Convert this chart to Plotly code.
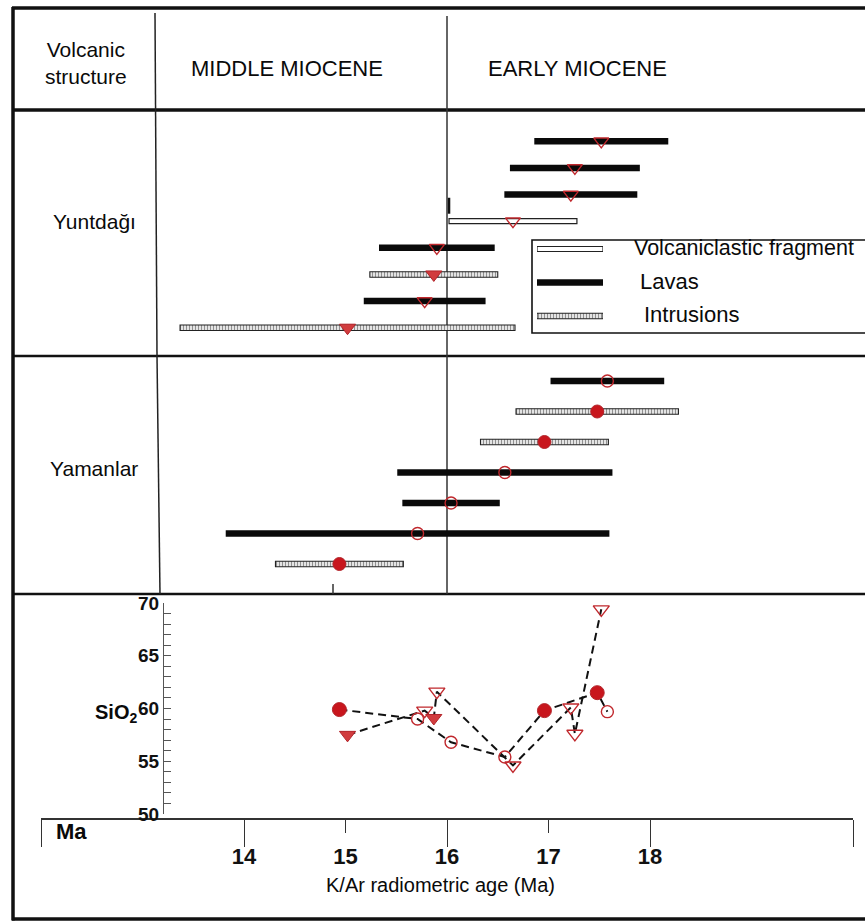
import plotly.graph_objects as go

W, H = 865, 922

# ---------------- data ----------------
# Yuntdağı samples, listed top to bottom
yunt_types = ["Lavas", "Lavas", "Lavas", "Volcaniclastic fragment",
              "Lavas", "Intrusions", "Lavas", "Intrusions"]
yunt_age = [17.52, 17.26, 17.22, 16.65, 15.90, 15.87, 15.78, 15.02]
yunt_err = [0.66, 0.64, 0.655, 0.63, 0.57, 0.63, 0.60, 1.65]
yunt_sio2 = [69.4, 57.6, 60.1, 54.6, 61.6, 59.1, 59.8, 57.5]

# Yamanlar samples, listed top to bottom
yama_types = ["Lavas", "Intrusions", "Intrusions", "Lavas",
              "Lavas", "Lavas", "Intrusions"]
yama_age = [17.58, 17.48, 16.96, 16.57, 16.04, 15.71, 14.94]
yama_err = [0.56, 0.80, 0.63, 1.06, 0.48, 1.89, 0.63]
yama_sio2 = [59.7, 61.5, 59.8, 55.4, 56.8, 59.0, 59.9]

age_ticks_major = [12, 14, 16, 18, 20]
age_labels_major = ["", "14", "16", "18", ""]
age_ticks_minor = [15, 17]
age_labels_minor = ["15", "17"]
sio2_ticks = [50, 55, 60, 65, 70]
legend_labels = ["Volcaniclastic fragment", "Lavas", "Intrusions"]
structures = ["Yuntdağı", "Yamanlar"]
epochs = ["MIDDLE MIOCENE", "EARLY MIOCENE"]
boundary_age = 16.0

# ---------------- helpers ----------------
FONT = "Liberation Sans, Arial, Helvetica, sans-serif"
RED_FILL_TRI = "#d13c3e"
RED_FILL_CIR = "#c8161d"
RED_LINE = "#c0282d"


def px(x):
    return x / W


def py(y):
    return 1 - y / H


STYLE = {
    "Lavas": dict(th=6.5, color="#0a0a0a", line_color="#0a0a0a", line_w=0, pattern=None),
    "Volcaniclastic fragment": dict(th=5, color="white", line_color="#222", line_w=1.2, pattern=None),
    "Intrusions": dict(th=5.5, color="white", line_color="#222", line_w=1.1,
                       pattern=dict(shape="|", fgcolor="#222", bgcolor="white",
                                    size=3, solidity=0.5)),
}

fig = go.Figure()


def add_bars(types, starts, lengths, rows, xaxis, yaxis, px_per_unit):
    for t in legend_labels:
        idx = [i for i in range(len(types)) if types[i] == t]
        if not idx:
            continue
        st = STYLE[t]
        marker = dict(color=st["color"], line=dict(color=st["line_color"], width=st["line_w"]))
        if st["pattern"]:
            marker["pattern"] = st["pattern"]
        fig.add_trace(go.Bar(
            orientation="h",
            y=[rows[i] for i in idx],
            base=[starts[i] for i in idx],
            x=[lengths[i] for i in idx],
            width=st["th"] / px_per_unit,
            marker=marker,
            xaxis=xaxis, yaxis=yaxis,
            showlegend=False, hoverinfo="skip",
        ))


def add_points(ages, vals, types, symbol, filled_color, size_open, size_filled, yaxis):
    filled = [i for i in range(len(ages)) if types[i] == "Intrusions"]
    opened = [i for i in range(len(ages)) if types[i] != "Intrusions"]
    fig.add_trace(go.Scatter(
        x=[ages[i] for i in opened], y=[vals[i] for i in opened], mode="markers",
        marker=dict(symbol=symbol + "-open", size=size_open, color=RED_LINE,
                    line=dict(width=1.4, color=RED_LINE)),
        xaxis="x", yaxis=yaxis, showlegend=False, hoverinfo="skip"))
    fig.add_trace(go.Scatter(
        x=[ages[i] for i in filled], y=[vals[i] for i in filled], mode="markers",
        marker=dict(symbol=symbol, size=size_filled, color=filled_color,
                    line=dict(width=1, color="#b3242a")),
        xaxis="x", yaxis=yaxis, showlegend=False, hoverinfo="skip"))


# ---------------- age-range bars ----------------
yunt_rows = list(range(len(yunt_age), 0, -1))
yama_rows = list(range(len(yama_age), 0, -1))
YUNT_PPU = (341 - 128) / 8.0
YAMA_PPU = (579.25 - 365.75) / 7.0

add_bars(yunt_types, [a - e for a, e in zip(yunt_age, yunt_err)],
         [2 * e for e in yunt_err], yunt_rows, "x", "y", YUNT_PPU)
add_bars(yama_types, [a - e for a, e in zip(yama_age, yama_err)],
         [2 * e for e in yama_err], yama_rows, "x", "y2", YAMA_PPU)

add_points(yunt_age, yunt_rows, yunt_types, "triangle-down", RED_FILL_TRI, 13, 14, "y")
add_points(yama_age, yama_rows, yama_types, "circle", RED_FILL_CIR, 12, 13, "y2")

# ---------------- SiO2 vs age ----------------
for ages, vals in ((yunt_age, yunt_sio2), (yama_age, yama_sio2)):
    order = sorted(range(len(ages)), key=lambda i: ages[i])
    fig.add_trace(go.Scatter(
        x=[ages[i] for i in order], y=[vals[i] for i in order], mode="lines",
        line=dict(color="#111", width=2, dash="8px,5px"),
        xaxis="x", yaxis="y3", showlegend=False, hoverinfo="skip"))
add_points(yunt_age, yunt_sio2, yunt_types, "triangle-down", RED_FILL_TRI, 14, 14, "y3")
add_points(yama_age, yama_sio2, yama_types, "circle", RED_FILL_CIR, 12, 14, "y3")

# dummy trace so the secondary age axis (15, 17 ticks) is rendered
fig.add_trace(go.Scatter(x=age_ticks_minor, y=[None] * len(age_ticks_minor),
                         xaxis="x2", yaxis="y3", showlegend=False, hoverinfo="skip"))

# ---------------- legend samples ----------------
leg_rows = list(range(len(legend_labels), 0, -1))
add_bars(legend_labels, [0] * 3, [1] * 3, leg_rows, "x3", "y4", 33.5)

# ---------------- layout ----------------
axis_y_px = 819
fig.update_layout(
    width=W, height=H, margin=dict(l=0, r=0, t=0, b=0, pad=0, autoexpand=False),
    paper_bgcolor="white", plot_bgcolor="rgba(0,0,0,0)",
    barmode="overlay", showlegend=False,
    font=dict(family=FONT, color="#111"),
    xaxis=dict(domain=[px(41), px(853)], range=[12, 20], anchor="free",
               position=py(axis_y_px), tickmode="array", tickvals=age_ticks_major,
               ticktext=age_labels_major, ticks="outside", ticklen=27, tickwidth=1.3,
               tickcolor="#333", showline=True, linecolor="#333", linewidth=1.5,
               showgrid=False, zeroline=False, automargin=False, ticklabelstandoff=-9,
               tickfont=dict(family=FONT, size=22, color="#111", weight="bold")),
    xaxis2=dict(domain=[px(41), px(853)], range=[12, 20], overlaying="x", anchor="free",
                position=py(axis_y_px), tickmode="array", tickvals=age_ticks_minor,
                ticktext=age_labels_minor, ticks="outside", ticklen=13, tickwidth=1.3,
                tickcolor="#333", ticklabelstandoff=5, showline=False, showgrid=False,
                zeroline=False, automargin=False,
                tickfont=dict(family=FONT, size=22, color="#111", weight="bold")),
    xaxis3=dict(domain=[px(537), px(603)], range=[0, 1], anchor="y4", visible=False,
                automargin=False),
    yaxis=dict(domain=[py(341), py(128)], range=[0.5, 8.5], visible=False, anchor="x",
               automargin=False),
    yaxis2=dict(domain=[py(579.25), py(365.75)], range=[0.5, 7.5], visible=False, anchor="x",
                automargin=False),
    yaxis3=dict(domain=[py(814), py(603)], range=[50, 70], anchor="free", position=px(163),
                tickmode="array", tickvals=sio2_ticks, ticks="inside", ticklen=7,
                tickwidth=1, tickcolor="#555", showline=True, linecolor="#555",
                linewidth=1.2, showgrid=False, zeroline=False, automargin=False,
                minor=dict(dtick=1, ticks="inside", ticklen=7, tickcolor="#555", tickwidth=1),
                tickfont=dict(family=FONT, size=19, color="#111", weight="bold")),
    yaxis4=dict(domain=[py(332.75), py(232.25)], range=[0.5, 3.5], anchor="x3", visible=False,
                automargin=False),
)

# ---------------- table frame ----------------
shapes = []


def hline(y, x0, x1, w):
    shapes.append(dict(type="line", xref="paper", yref="paper", x0=px(x0), x1=px(x1),
                       y0=py(y), y1=py(y), line=dict(color="#111", width=w), layer="below"))


def vline(x0, y0, x1, y1, w, color="#222"):
    shapes.append(dict(type="line", xref="paper", yref="paper", x0=px(x0), x1=px(x1),
                       y0=py(y0), y1=py(y1), line=dict(color=color, width=w), layer="below"))


hline(8, 12, 880, 3.5)
hline(919, 12, 880, 3.5)
hline(110, 13, 880, 3.5)
hline(356, 13, 880, 2.6)
hline(594, 13, 880, 2.6)
vline(13, 7, 13, 920.5, 3.5, "#111")
vline(155, 13, 157, 356, 1.5)
vline(157, 356, 160, 594, 1.5)
vline(333, 584, 333, 594, 1.5, "#333")
# small stroke above the start of the volcaniclastic-fragment bar
vc = yunt_types.index("Volcaniclastic fragment")
shapes.append(dict(type="line", xref="x", yref="y",
                   x0=yunt_age[vc] - yunt_err[vc], x1=yunt_age[vc] - yunt_err[vc],
                   y0=yunt_rows[vc] + 0.28, y1=yunt_rows[vc] + 0.88,
                   line=dict(color="#111", width=2.5)))
# Middle / Early Miocene boundary
shapes.append(dict(type="line", xref="x", yref="paper", x0=boundary_age, x1=boundary_age,
                   y0=py(594), y1=py(16), line=dict(color="#333", width=1.5), layer="below"))
# legend frame
shapes.append(dict(type="rect", xref="paper", yref="paper", x0=px(532), x1=px(880),
                   y0=py(333), y1=py(240), line=dict(color="#111", width=1.6),
                   fillcolor="white", layer="below"))
fig.update_layout(shapes=shapes)

# ---------------- texts ----------------
ann = []


def text(s, x, y, size, xanchor="center", bold=False):
    ann.append(dict(text=s, x=px(x), y=py(y), xref="paper", yref="paper", showarrow=False,
                    xanchor=xanchor, yanchor="middle",
                    font=dict(family=FONT, size=size, color="#0a0a0a",
                              weight="bold" if bold else "normal")))


text("Volcanic<br>structure", 86, 63, 21)
text(epochs[0], 287, 68, 22)
text(epochs[1], 577, 68, 22)
text(structures[0], 94, 222, 21)
text(structures[1], 94, 468, 21)
legend_text_x = [632, 638, 642]
legend_text_y = [248, 281, 315]
for lab, lx, ly in zip(legend_labels, legend_text_x, legend_text_y):
    text(lab, lx, ly, 21.5 if len(lab) > 15 else 22, xanchor="left")
text("Ma", 54, 831, 22, xanchor="left", bold=True)
text("SiO<sub>2</sub>", 139, 713, 20, xanchor="right", bold=True)
text("K/Ar radiometric age (Ma)", 440, 885, 20)
fig.update_layout(annotations=ann)

fig.write_html("out.html", config={"displayModeBar": False},
               post_script="document.body.style.margin='0';"
                           "document.documentElement.style.margin='0';")
